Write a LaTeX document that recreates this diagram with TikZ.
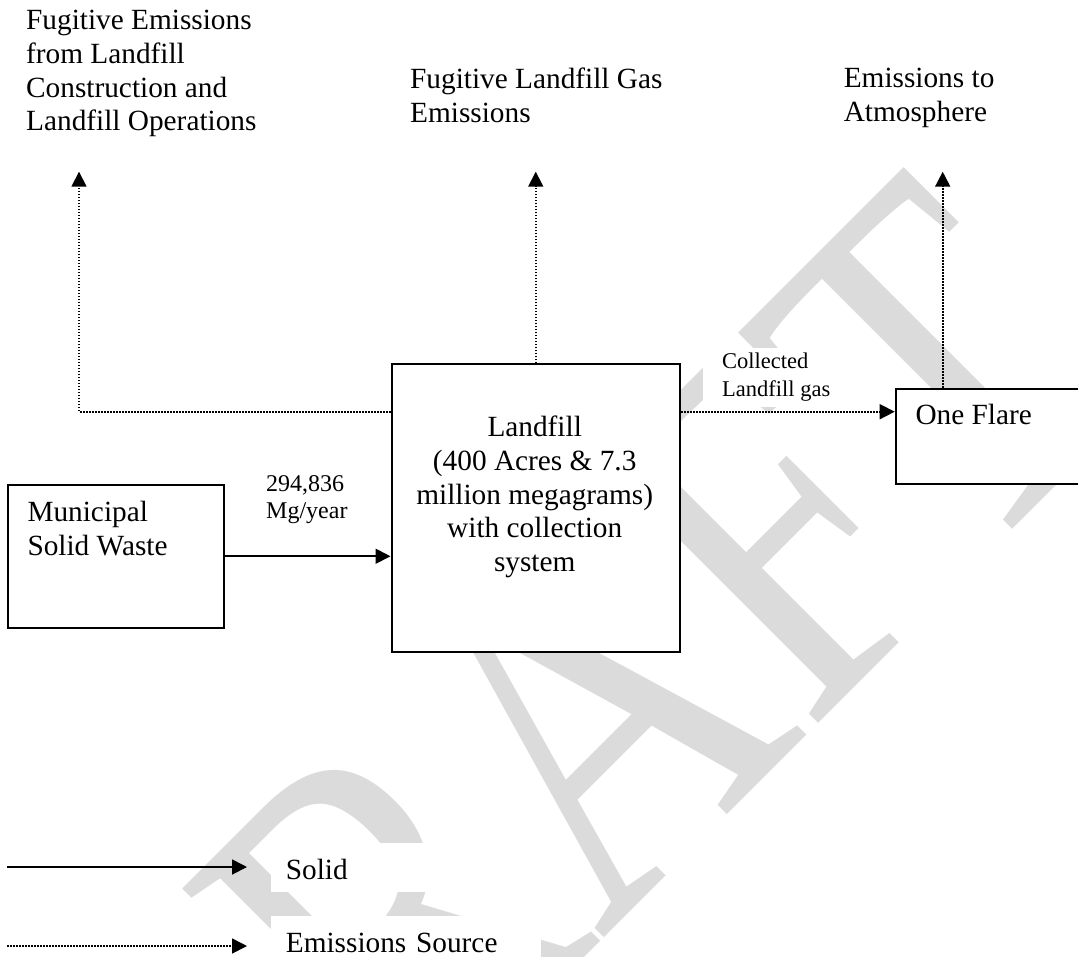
\documentclass[tikz,border=0pt]{standalone}
\usepackage{graphicx}
\usepackage{fontspec}
\setmainfont{Liberation Serif}
\usetikzlibrary{arrows.meta,calc}
\begin{document}
\begin{tikzpicture}[x=1pt,y=-1pt,
  box/.style={draw=black, line width=2pt, fill=white, inner sep=0pt, anchor=north west},
  big/.style={font=\fontsize{29.3}{33.7}\selectfont, inner sep=0pt},
  small/.style={font=\fontsize{24}{27}\selectfont, inner sep=0pt},
  tiny/.style={font=\fontsize{22.5}{28}\selectfont, inner sep=0pt},
  tip/.style={-{Triangle[length=15pt,width=15pt]}},
  emis/.style={tip, line width=1.7pt, dash pattern=on 1.6pt off 1.4pt},
  solidarr/.style={tip, line width=1.8pt},
  legendtext/.style={big, anchor=base west, fill=white, text width=240pt, align=left,
    inner xsep=15pt, inner ysep=0pt, text height=37pt, text depth=12pt},
  wmark/.style={rotate=45, anchor=base east, inner sep=0pt, text=black!14,
    font=\fontsize{508}{508}\selectfont}
]
\useasboundingbox (0,0) rectangle (1078,956);
\clip (0,0) rectangle (1078,956);
\fill[white] (0,0) rectangle (1078,956);
% watermark
\node[wmark] (wm) at (1144.5,397.5) {\scalebox{0.8}[1]{DRAFT}};
% boxes
\node[box, minimum width=216.4pt, minimum height=143.5pt] (msw) at (7,483.5) {};
\node[box, minimum width=288.5pt, minimum height=287.6pt] (landfill) at (390.5,363.4) {};
\node[box, minimum width=220pt, minimum height=95.6pt] (flare) at (894.7,387.5) {};
% texts
\node[big, anchor=north west, align=left] (t1) at (26,10) {Fugitive Emissions\\from Landfill\\Construction and\\Landfill Operations};
\node[big, anchor=north west, align=left] (t2) at (410,67.9) {Fugitive Landfill Gas\\Emissions};
\node[big, anchor=north west, align=left] (t3) at (843.6,67.9) {Emissions to\\Atmosphere};
\node[big, anchor=north west, align=left] (t4) at (27.3,501) {Municipal\\Solid Waste};
\node[big, anchor=north, align=center] (t5) at (534.7,416) {Landfill\\(400 Acres \& 7.3\\million megagrams)\\with collection\\system};
\node[big, anchor=north west] (t6) at (915.3,404) {One Flare};
\node[small, anchor=north west, align=left] (t7) at (266,475) {294,836\\Mg/year};
\node[tiny, anchor=north west, align=left, fill=white, inner xsep=19pt, inner ysep=5pt] (t8) at (703,348) {Collected\\Landfill gas};
% connectors
\coordinate (gas) at (0,411.7);
\coordinate (up1) at (79,171.7);
\coordinate (up3) at (942.7,171.7);
\draw[emis] (landfill.west |- gas) -| (up1);
\draw[emis] (landfill.north) -- (landfill.north |- up1);
\draw[emis] (landfill.east |- gas) -- (flare.west |- gas);
\draw[emis] (flare.north west -| up3) -- (up3);
\draw[solidarr] (msw.east) -- (msw.east -| landfill.west);
% legend
\coordinate (l1a) at (7,867);
\coordinate (l1b) at (247,867);
\coordinate (l2a) at (7,946);
\coordinate (l2b) at (247,946);
\node[legendtext] (solid) at (270.7,879.5) {Solid};
\node[legendtext] (emsrc) at (270.7,952.5) {Emissions Source};
\draw[solidarr] (l1a) -- (l1b);
\draw[emis] (l2a) -- (l2b);
\end{tikzpicture}
\end{document}
